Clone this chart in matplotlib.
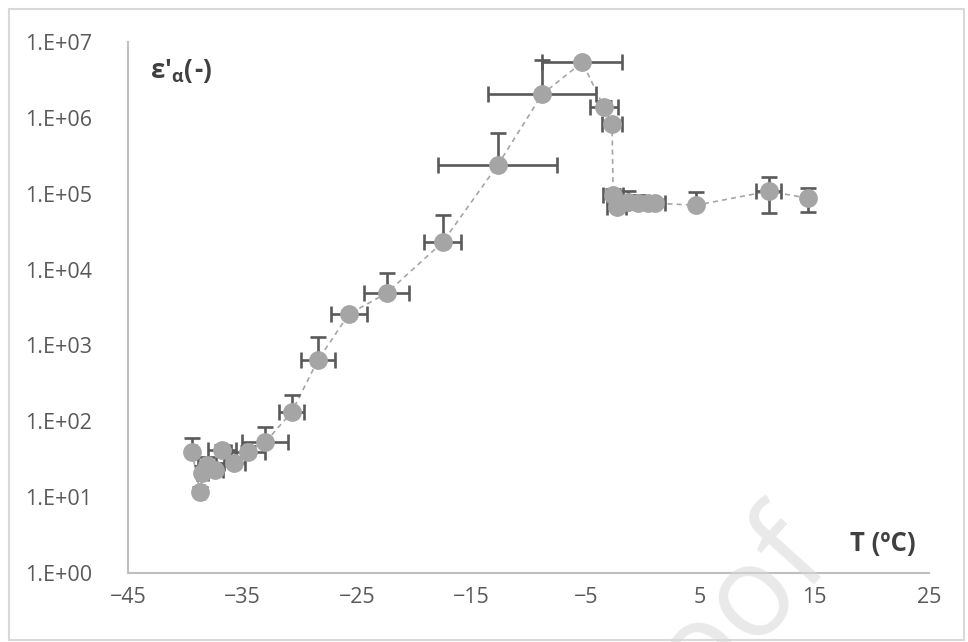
import numpy as np
import matplotlib.pyplot as plt
from matplotlib.patches import Rectangle

# data (T in degC, permittivity, error bars)
temp = [-39.4, -38.7, -38.5, -38.1, -37.4, -36.8, -35.7, -34.5, -33.0, -30.7,
        -28.4, -25.7, -22.4, -17.5, -12.7, -8.8, -5.3, -3.4, -2.7, -2.6,
        -2.3, -1.3, -0.4, 0.45, 1.07, 4.65, 11.0, 14.4]
eps = [39, 11.7, 20.8, 26.5, 22.8, 42, 28, 39, 53, 132,
       640, 2585, 4890, 22960, 237000, 2.05e6, 5.4e6, 1.38e6, 8.24e5, 95700,
       66400, 77300, 75000, 75000, 75000, 70500, 108000, 87300]
temp_err = [0.3, 0.3, 0.5, 0.8, 0.7, 1.2, 0.9, 1.5, 2.0, 1.1,
            1.45, 1.6, 2.0, 1.6, 5.2, 4.7, 3.5, 1.2, 0.9, 0.9,
            0.8, 0.8, 0.8, 0.8, 0.9, 0.0, 1.1, 0.0]
eps_err_up = [21, 2, 5, 7, 5, 6, 6, 8, 31, 89,
              646, 300, 4080, 29000, 390000, 3.7e6, 0, 3.0e5, 1.0e5, 20000,
              10000, 30000, 20000, 15000, 10000, 34500, 57000, 30000]
eps_err_low = [0] * 26 + [52700, 30000]

plt.rcParams['font.family'] = ['Open Sans', 'DejaVu Sans']

fig = plt.figure(figsize=(9.68, 6.42), dpi=100)
ax = fig.add_axes([128 / 968, 69 / 642, 801 / 968, 531 / 642])

ax.plot(temp, eps, linestyle=(0, (3, 2.5)), color='#a5a5a5', lw=1.2, zorder=2)
ax.errorbar(temp, eps, xerr=temp_err, yerr=[eps_err_low, eps_err_up],
            fmt='none', ecolor='#595959', elinewidth=1.9, capsize=5.5,
            capthick=1.9, zorder=3)
ax.plot(temp, eps, 'o', color='#a5a5a5', markersize=12.5, zorder=4)

ax.set_yscale('log')
ax.set_xlim(-45, 25)
ax.set_ylim(1, 1e7)
ax.set_xticks([-45, -35, -25, -15, -5, 5, 15, 25])
ax.set_yticks([10.0 ** k for k in range(8)])
ax.set_yticklabels(['1.E+%02d' % k for k in range(8)])
ax.minorticks_off()
ax.tick_params(length=0, labelsize=15.5, labelcolor='#595959', pad=10)
ax.tick_params(axis='y', pad=26)
for s in ['top', 'right']:
    ax.spines[s].set_visible(False)
for s in ['left', 'bottom']:
    ax.spines[s].set_color('#bfbfbf')
    ax.spines[s].set_linewidth(1.5)

fig.text(150 / 968, 1 - 71 / 642, r"ε'$_{\mathregular{α}}$(-)", fontsize=18.5,
         fontweight='bold', color='#404040', va='center', ha='left')
fig.text(850 / 968, 1 - 544 / 642, 'T (ºC)', fontsize=18.5,
         fontweight='bold', color='#404040', va='center', ha='left')

# faint watermark (tail of the page stamp)
fig.text(833 / 968, 1 - 557 / 642, 'oof', fontsize=92,
         color='#d8d8d8', alpha=0.55, rotation=48, ha='right', va='baseline',
         rotation_mode='anchor', zorder=10)

fig.patches.append(Rectangle((9 / 968, 2 / 642), 955 / 968, 631 / 642,
                             transform=fig.transFigure, fill=False,
                             edgecolor='#d9d9d9', lw=1.5))

fig.savefig('out.png', dpi=100)
